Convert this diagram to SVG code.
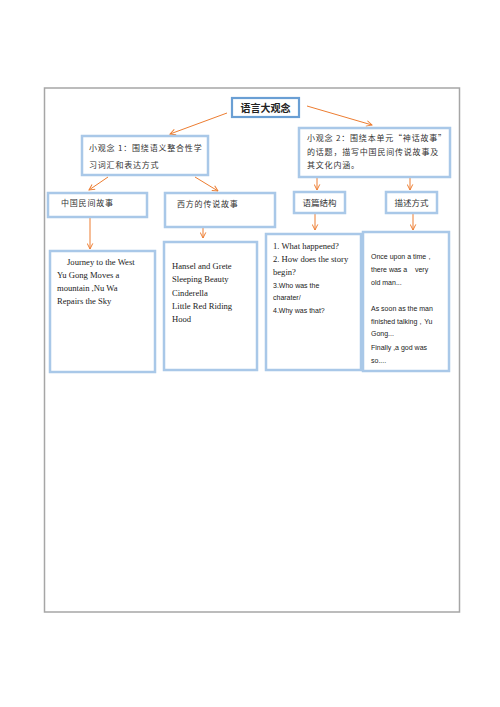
<svg xmlns="http://www.w3.org/2000/svg" width="500" height="707" viewBox="0 0 500 707">
<style>
.frame{fill:#fff;stroke:#a6a6a6;stroke-width:1.5}
.box{fill:#fff;stroke:#a9c8e8;stroke-width:2.5}
.main{fill:#fff;stroke:#6a9fd4;stroke-width:2.2}
.cn{font-family:"Noto Sans CJK SC",sans-serif;font-size:8px;fill:#333;letter-spacing:0.8px}
.cnb{font-family:"Noto Sans CJK SC",sans-serif;font-size:10px;font-weight:bold;fill:#222}
.cn2{font-family:"Noto Sans CJK SC",sans-serif;font-size:8.5px;fill:#333}
.en{font-family:"Liberation Serif",serif;font-size:8.6px;fill:#222}
.sa{font-family:"Liberation Sans",sans-serif;font-size:7px;fill:#222}
.arr{stroke:#ed7d31;stroke-width:1;fill:none;marker-end:url(#ah)}
</style>
<defs>
<marker id="ah" viewBox="0 0 10 10" refX="9" refY="5" markerWidth="7" markerHeight="7" orient="auto" markerUnits="userSpaceOnUse">
<polyline points="1,1 9,5 1,9" fill="none" stroke="#ed7d31" stroke-width="1.4"/>
</marker>
</defs>
<rect width="500" height="707" fill="#fff"/>
<rect class="frame" x="44.5" y="88" width="415" height="524"/>

<g id="connectors">
<line class="arr" x1="227" y1="113" x2="170" y2="134"/>
<line class="arr" x1="307" y1="106" x2="372" y2="125"/>
<line class="arr" x1="108" y1="177" x2="89" y2="190"/>
<line class="arr" x1="195" y1="177" x2="218" y2="191"/>
<line class="arr" x1="317" y1="178" x2="317" y2="190"/>
<line class="arr" x1="410" y1="178" x2="410" y2="190"/>
<line class="arr" x1="90" y1="218" x2="90" y2="249"/>
<line class="arr" x1="203" y1="228" x2="203" y2="238"/>
<line class="arr" x1="315" y1="214" x2="315" y2="230"/>
<line class="arr" x1="413" y1="214" x2="413" y2="230"/>
</g>

<g id="main">
<rect class="main" x="232" y="98" width="67" height="19"/>
<text class="cnb" x="265.5" y="112" text-anchor="middle">语言大观念</text>
</g>

<g id="sub1">
<rect class="box" x="82" y="136" width="126" height="39"/>
<text class="cn" x="89" y="151">小观念 1：围绕语义整合性学</text>
<text class="cn" x="89" y="168">习词汇和表达方式</text>
</g>

<g id="sub2">
<rect class="box" x="299" y="128" width="151" height="49"/>
<text class="cn" x="307" y="141">小观念 2：围绕本单元“神话故事”</text>
<text class="cn" x="307" y="155">的话题，描写中国民间传说故事及</text>
<text class="cn" x="307" y="168">其文化内涵。</text>
</g>

<g id="cnstory">
<rect class="box" x="48" y="193" width="99" height="24"/>
<text class="cn" x="61" y="206">中国民间故事</text>
</g>

<g id="weststory">
<rect class="box" x="165" y="193" width="110" height="34"/>
<text class="cn" x="177" y="207">西方的传说故事</text>
</g>

<g id="structure">
<rect class="box" x="294" y="192" width="51" height="21"/>
<text class="cn2" x="319.5" y="206" text-anchor="middle">语篇结构</text>
</g>

<g id="describe">
<rect class="box" x="386" y="192" width="51" height="21"/>
<text class="cn2" x="411.5" y="206" text-anchor="middle">描述方式</text>
</g>

<g id="cnlist">
<rect class="box" x="50" y="251" width="105" height="121"/>
<text class="en" x="67" y="265">Journey to the West</text>
<text class="en" x="57" y="278">Yu Gong Moves a</text>
<text class="en" x="57" y="291">mountain ,Nu Wa</text>
<text class="en" x="57" y="304">Repairs the Sky</text>
</g>

<g id="westlist">
<rect class="box" x="164" y="242" width="93" height="128"/>
<text class="en" x="172" y="269">Hansel and Grete</text>
<text class="en" x="172" y="282">Sleeping Beauty</text>
<text class="en" x="172" y="296">Cinderella</text>
<text class="en" x="172" y="309">Little Red Riding</text>
<text class="en" x="172" y="322">Hood</text>
</g>

<g id="questions">
<rect class="box" x="266" y="234" width="95" height="136"/>
<text class="en" x="273" y="249">1.  What happened?</text>
<text class="en" x="273" y="262">2.  How does the story</text>
<text class="en" x="273" y="275">begin?</text>
<text class="sa" x="273" y="288">3.Who was the</text>
<text class="sa" x="273" y="300">charater/</text>
<text class="sa" x="273" y="313">4.Why was that?</text>
</g>

<g id="phrases">
<rect class="box" x="363" y="232" width="86" height="139"/>
<text class="sa" x="371" y="259">Once upon a time，</text>
<text class="sa" x="371" y="272" xml:space="preserve">there was a    very</text>
<text class="sa" x="371" y="285">old man...</text>
<text class="sa" x="371" y="311">As soon as the man</text>
<text class="sa" x="371" y="324">finished talking，Yu</text>
<text class="sa" x="371" y="336">Gong...</text>
<text class="sa" x="371" y="350">Finally ,a god was</text>
<text class="sa" x="371" y="363">so....</text>
</g>
</svg>
